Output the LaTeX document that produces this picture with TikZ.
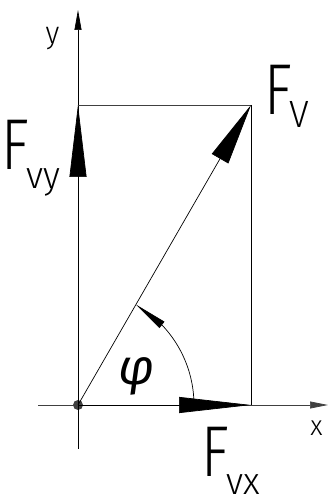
\documentclass[tikz,border=0pt]{standalone}
\usepackage{fontspec}
\usetikzlibrary{arrows.meta,bending}
\newfontfamily\lab[FakeStretch=0.8]{Fira Sans Light}
\newfontfamily\labsub[FakeStretch=0.95]{Fira Sans Light}
\newfontfamily\labphi{Fira Sans}
\begin{document}
\begin{tikzpicture}[x=1pt,y=1pt,
  thinline/.style={line width=0.7pt,black},
  grayline/.style={line width=0.7pt,black!75},
  lbl/.style={inner sep=0pt,font=\lab}]
\useasboundingbox (0,0) rectangle (329,499);
% key points
\coordinate (O) at (78,94);
\coordinate (V) at (251,394);
\coordinate (Vy) at (78,394);
\coordinate (Vx) at (251,94);
\coordinate (ytop) at (78,489);
\coordinate (ybot) at (78,50);
\coordinate (xleft) at (38,94);
\coordinate (xright) at (328,94);
\coordinate (arcstart) at (194,94);
% origin dot
\fill[black!75] (O) circle[radius=5pt];
% axes
\draw[thinline,-{Triangle[length=20pt,width=7pt]}] (ybot) -- (ytop);
\draw[grayline,-{Triangle[length=18pt,width=7pt]}] (xleft) -- (xright);
% rectangle
\draw[grayline] (Vy) -- (V);
\draw[thinline] (V) -- (Vx);
% force vectors
\draw[thinline,-{Triangle[length=62pt,width=19pt]}] (O) -- (V);
\draw[thinline,-{Triangle[length=72pt,width=17pt]}] (O) -- (Vy);
\draw[thinline,-{Triangle[length=72pt,width=16pt]}] (O) -- (Vx);
% angle
\draw[thinline,-{Triangle[length=33pt,width=8pt,flex]}] (arcstart) arc[start angle=0,end angle=60,radius=116pt];
% labels
\node[lbl,font=\labsub\fontsize{31}{31}\selectfont] (ylab) at (52.5,460) {y};
\node[lbl,font=\labsub\fontsize{28}{28}\selectfont] (xlab) at (316.5,71) {x};
\node[lbl,font=\labphi\itshape\fontsize{50}{50}\selectfont] (philab) at (137,123) {φ};
\node[lbl,anchor=base west,font=\lab\fontsize{72}{72}\selectfont] (Fvlab) at (264,384)
  {F\kern-2pt\raisebox{-13pt}{\labsub\fontsize{38}{38}\selectfont V}};
\node[lbl,anchor=base west,font=\lab\fontsize{72}{72}\selectfont] (Fvylab) at (1,329)
  {F\kern-2pt\raisebox{-19pt}{\labsub\fontsize{38}{38}\selectfont vy}};
\node[lbl,anchor=base west,font=\lab\fontsize{72}{72}\selectfont] (Fvxlab) at (201,22)
  {F\kern-2pt\raisebox{-18pt}{\labsub\fontsize{38}{38}\selectfont vx}};
\end{tikzpicture}
\end{document}
